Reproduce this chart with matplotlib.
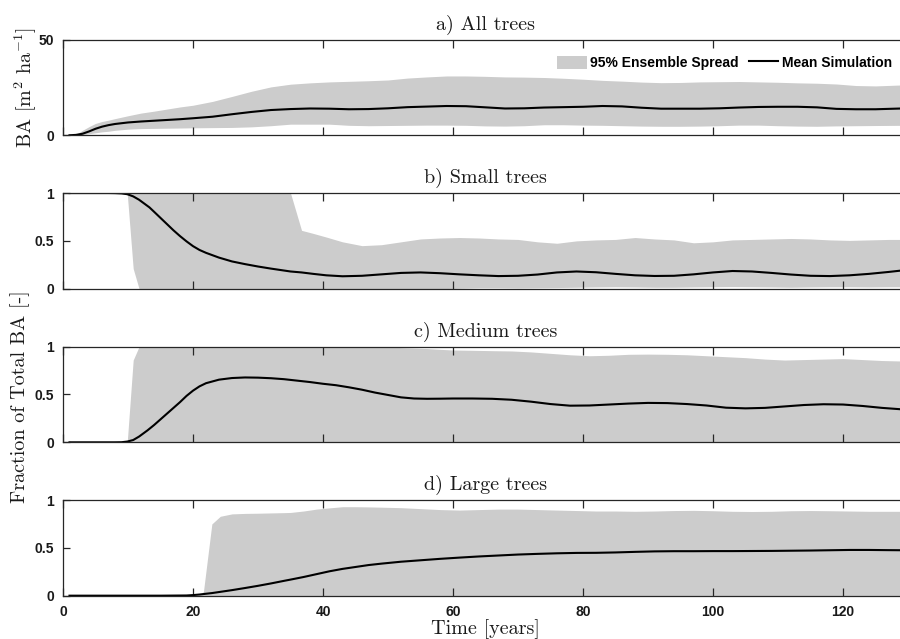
import matplotlib
matplotlib.use("Agg")
import matplotlib.pyplot as plt
from matplotlib.patches import Patch
from matplotlib.lines import Line2D

# ---------------- data ----------------
# a) All trees (BA, m2/ha)
t_a = [1, 2, 3, 4, 5, 6, 7, 8, 10, 12, 14, 16, 18, 20, 23, 26, 29, 32, 35, 38, 41, 44, 47, 50,
       53, 56, 59, 62, 65, 68, 71, 74, 77, 80, 83, 86, 89, 92, 95, 98, 101, 104, 107, 110,
       113, 116, 119, 122, 125, 129]
mean_a = [0, 0.2, 0.8, 2.0, 3.4, 4.5, 5.3, 5.9, 6.7, 7.2, 7.6, 8.0, 8.4, 8.9, 9.7, 11.0, 12.2,
          13.2, 13.7, 14.0, 13.9, 13.6, 13.7, 14.1, 14.7, 15.0, 15.3, 15.2, 14.6, 14.0, 14.1,
          14.5, 14.7, 14.9, 15.3, 15.1, 14.4, 13.9, 13.9, 13.9, 14.1, 14.5, 14.8, 14.9, 14.9,
          14.6, 13.8, 13.6, 13.6, 14.0]
upper_a = [0, 0.4, 2.6, 4.5, 6.2, 7.2, 7.9, 8.7, 10.2, 11.6, 12.6, 13.7, 14.8, 15.7, 17.7, 20.3,
           23.0, 25.3, 26.7, 27.4, 27.9, 28.2, 28.5, 28.9, 29.9, 30.5, 31.0, 31.0, 30.8, 30.5,
           30.4, 30.2, 29.8, 29.3, 28.7, 28.3, 27.8, 27.5, 27.6, 27.9, 28.0, 28.1, 27.9, 27.7,
           27.4, 27.2, 26.8, 26.0, 25.8, 26.3]
lower_a = [0, 0, 0.3, 0.8, 1.3, 1.8, 2.1, 2.6, 3.2, 3.5, 3.6, 3.7, 3.8, 3.9, 4.0, 4.1, 4.4, 5.0,
           5.8, 5.8, 5.8, 5.2, 5.0, 5.1, 5.2, 5.3, 5.3, 5.2, 4.9, 4.8, 5.0, 5.5, 5.5, 5.3, 5.2,
           5.0, 4.8, 4.7, 4.7, 4.8, 5.0, 5.3, 5.3, 5.0, 4.8, 4.7, 4.9, 5.0, 5.1, 5.2]

# b) Small trees (fraction)
t_b = [1, 3, 5, 7, 8, 9, 9.9, 10.8, 11.7, 12.5, 13.3, 14, 15, 16, 17, 18, 19, 20, 21, 22, 24,
       26, 28, 30, 32, 34, 35, 36.7, 38.5, 40.5, 43, 46, 49, 52, 55, 58, 61, 64, 67, 70, 73,
       76, 79, 82, 85, 88, 91, 94, 97, 100, 103, 106, 109, 112, 115, 118, 121, 124, 127, 129]
mean_b = [1, 1, 1, 1, 0.999, 0.996, 0.988, 0.965, 0.93, 0.89, 0.85, 0.805, 0.74, 0.675, 0.61,
          0.55, 0.495, 0.445, 0.405, 0.375, 0.325, 0.285, 0.257, 0.232, 0.21, 0.19, 0.18, 0.17,
          0.155, 0.14, 0.13, 0.135, 0.15, 0.165, 0.17, 0.162, 0.15, 0.14, 0.132, 0.135, 0.148,
          0.17, 0.18, 0.172, 0.155, 0.14, 0.133, 0.135, 0.15, 0.17, 0.185, 0.18, 0.165, 0.148,
          0.135, 0.132, 0.14, 0.155, 0.175, 0.19]
upper_b = [1, 1, 1, 1, 1, 1, 1, 1, 1, 1, 1, 1, 1, 1, 1, 1, 1, 1, 1, 1, 1, 1, 1, 1, 1, 1, 1,
           0.61, 0.578, 0.54, 0.49, 0.45, 0.46, 0.49, 0.52, 0.53, 0.535, 0.53, 0.52, 0.515,
           0.49, 0.475, 0.5, 0.51, 0.515, 0.535, 0.52, 0.51, 0.48, 0.49, 0.51, 0.515, 0.52,
           0.525, 0.52, 0.51, 0.505, 0.51, 0.515, 0.515]
lower_b = [1, 1, 1, 1, 1, 1, 0.98, 0.21, 0, 0, 0, 0, 0, 0, 0, 0, 0, 0, 0, 0, 0, 0, 0, 0, 0, 0,
           0, 0, 0, 0, 0, 0, 0, 0, 0, 0, 0.005, 0.01, 0.01, 0.008, 0.01, 0.012, 0.015, 0.018,
           0.02, 0.018, 0.015, 0.015, 0.018, 0.02, 0.022, 0.02, 0.018, 0.015, 0.018, 0.02,
           0.02, 0.018, 0.02, 0.02]

# c) Medium trees (fraction)
t_c = [1, 3, 5, 7, 8, 9, 9.9, 10.8, 11.7, 13, 14, 15, 16, 17, 18, 19, 20, 21, 22, 24, 26, 28,
       30, 32, 34, 36, 38, 40, 42, 44, 46, 48, 50, 52, 54, 56, 58, 60, 63, 66, 69, 72, 75, 78,
       81, 84, 87, 90, 93, 96, 99, 102, 105, 108, 111, 114, 117, 120, 123, 126, 129]
mean_c = [0, 0, 0, 0, 0, 0.001, 0.008, 0.024, 0.06, 0.125, 0.18, 0.24, 0.30, 0.36, 0.42, 0.485,
          0.54, 0.585, 0.618, 0.655, 0.672, 0.678, 0.676, 0.67, 0.66, 0.645, 0.63, 0.612, 0.597,
          0.575, 0.55, 0.52, 0.495, 0.47, 0.458, 0.455, 0.456, 0.458, 0.458, 0.455, 0.445,
          0.425, 0.40, 0.383, 0.385, 0.395, 0.405, 0.412, 0.41, 0.40, 0.385, 0.362, 0.355, 0.36,
          0.375, 0.39, 0.398, 0.395, 0.38, 0.36, 0.345]
upper_c = [0, 0, 0, 0, 0, 0, 0.02, 0.86, 1, 1, 1, 1, 1, 1, 1, 1, 1, 1, 1, 1, 1, 1, 1, 0.997,
           0.995, 0.993, 0.995, 0.997, 1, 1, 1, 1, 1, 0.99, 0.985, 0.98, 0.972, 0.965, 0.962,
           0.958, 0.955, 0.945, 0.93, 0.915, 0.905, 0.91, 0.92, 0.922, 0.92, 0.915, 0.905,
           0.895, 0.885, 0.87, 0.86, 0.865, 0.87, 0.875, 0.865, 0.855, 0.85]
lower_c = [0] * len(t_c)

# d) Large trees (fraction)
t_d = [1, 5, 10, 15, 19, 20, 21, 21.6, 22.9, 24.2, 26, 28, 30, 32, 34, 35, 37, 39, 41, 43, 45,
       47, 49, 52, 55, 58, 61, 64, 67, 70, 73, 76, 79, 82, 85, 88, 91, 94, 97, 100, 103, 106,
       109, 112, 115, 118, 121, 124, 127, 129]
mean_d = [0, 0, 0, 0, 0.002, 0.006, 0.012, 0.017, 0.027, 0.04, 0.058, 0.08, 0.103, 0.128,
          0.155, 0.168, 0.195, 0.225, 0.255, 0.28, 0.30, 0.32, 0.335, 0.355, 0.37, 0.385, 0.398,
          0.41, 0.42, 0.43, 0.437, 0.443, 0.447, 0.448, 0.452, 0.458, 0.463, 0.465, 0.465,
          0.466, 0.466, 0.467, 0.468, 0.47, 0.472, 0.475, 0.478, 0.478, 0.476, 0.475]
upper_d = [0, 0, 0, 0, 0, 0, 0.01, 0.04, 0.75, 0.83, 0.855, 0.86, 0.862, 0.865, 0.868, 0.87,
           0.885, 0.905, 0.918, 0.93, 0.93, 0.928, 0.925, 0.92, 0.91, 0.9, 0.895, 0.9, 0.905,
           0.905, 0.9, 0.895, 0.89, 0.885, 0.885, 0.882, 0.885, 0.89, 0.892, 0.888, 0.882,
           0.88, 0.882, 0.888, 0.89, 0.888, 0.885, 0.882, 0.882, 0.882]
lower_d = [0] * len(t_d)

titles = ["a) All trees", "b) Small trees", "c) Medium trees", "d) Large trees"]
x_ticks = [0, 20, 40, 60, 80, 100, 120]
frac_ticks = [0, 0.5, 1]
frac_ticklabels = ["0", "0.5", "1"]
ba_ticks = [0, 50]
ba_ticklabels = ["0", "50"]
legend_labels = ["95% Ensemble Spread", "Mean Simulation"]

# ---------------- style ----------------
plt.rcParams["mathtext.fontset"] = "cm"
AXC = "#262626"
FILL = "#cccccc"
SERIF = "cmr10"
TICKFONT = "Liberation Sans"
SERIF_SIZE = 14.5

fig = plt.figure(figsize=(9.0, 6.39), dpi=100)

W = 900.0
left = 63.0 / W
width = 845.0 / W
height = 0.1497
bottoms = [0.7883, 0.5482, 0.3078, 0.0678]

series = [
    (t_a, mean_a, upper_a, lower_a),
    (t_b, mean_b, upper_b, lower_b),
    (t_c, mean_c, upper_c, lower_c),
    (t_d, mean_d, upper_d, lower_d),
]

axes = []
for i, (t, m, up, lo) in enumerate(series):
    ax = fig.add_axes([left, bottoms[i], width, height])
    ax.fill_between(t, lo, up, color=FILL, linewidth=0)
    ax.plot(t, m, color="black", linewidth=1.5)
    ax.set_xlim(0, 130)
    if i == 0:
        ax.set_ylim(0, 50)
        ax.set_yticks(ba_ticks)
        ax.set_yticklabels(ba_ticklabels)
    else:
        ax.set_ylim(0, 1)
        ax.set_yticks(frac_ticks)
        ax.set_yticklabels(frac_ticklabels)
    ax.set_xticks(x_ticks)
    if i < 3:
        ax.set_xticklabels([])
    for s in ax.spines.values():
        s.set_color(AXC)
        s.set_linewidth(0.9)
    ax.spines["right"].set_visible(False)
    ax.tick_params(axis="x", direction="in", top=True, bottom=True, length=5.5,
                   width=0.9, color=AXC, pad=7)
    ax.tick_params(axis="y", direction="in", left=True, right=False, length=5,
                   width=0.9, color=AXC, pad=6.5)
    for lab in ax.get_xticklabels() + ax.get_yticklabels():
        lab.set_fontfamily(TICKFONT)
        lab.set_fontweight("bold")
        lab.set_fontsize(10)
        lab.set_color("#1a1a1a")
    ax.set_title(titles[i], fontfamily=SERIF, fontsize=SERIF_SIZE, pad=7, color="#1a1a1a")
    axes.append(ax)

handles = [Patch(facecolor=FILL, edgecolor="none"),
           Line2D([], [], color="black", linewidth=1.5)]
leg = axes[0].legend(handles, legend_labels, loc="upper right", ncol=2, frameon=False,
                     prop={"family": TICKFONT, "weight": "bold", "size": 10},
                     handlelength=2.15, handleheight=1.1, handletextpad=0.25,
                     columnspacing=0.7, bbox_to_anchor=(0.9877, 0.89),
                     borderaxespad=0.0)

fig.text(26.0 / W, 1 - 88.0 / 639, r"BA [m$^{2}$ ha$^{-1}$]", rotation=90,
         ha="center", va="center", fontfamily=SERIF, fontsize=SERIF_SIZE, color="#1a1a1a")
fig.text(20.0 / W, 1 - 397.0 / 639, "Fraction of Total BA [-]", rotation=90,
         ha="center", va="center", fontfamily=SERIF, fontsize=SERIF_SIZE, color="#1a1a1a")
fig.text(485.0 / W, 5.0 / 639, "Time [years]", ha="center", va="baseline",
         fontfamily=SERIF, fontsize=SERIF_SIZE, color="#1a1a1a")

fig.savefig("out.png", dpi=100)
